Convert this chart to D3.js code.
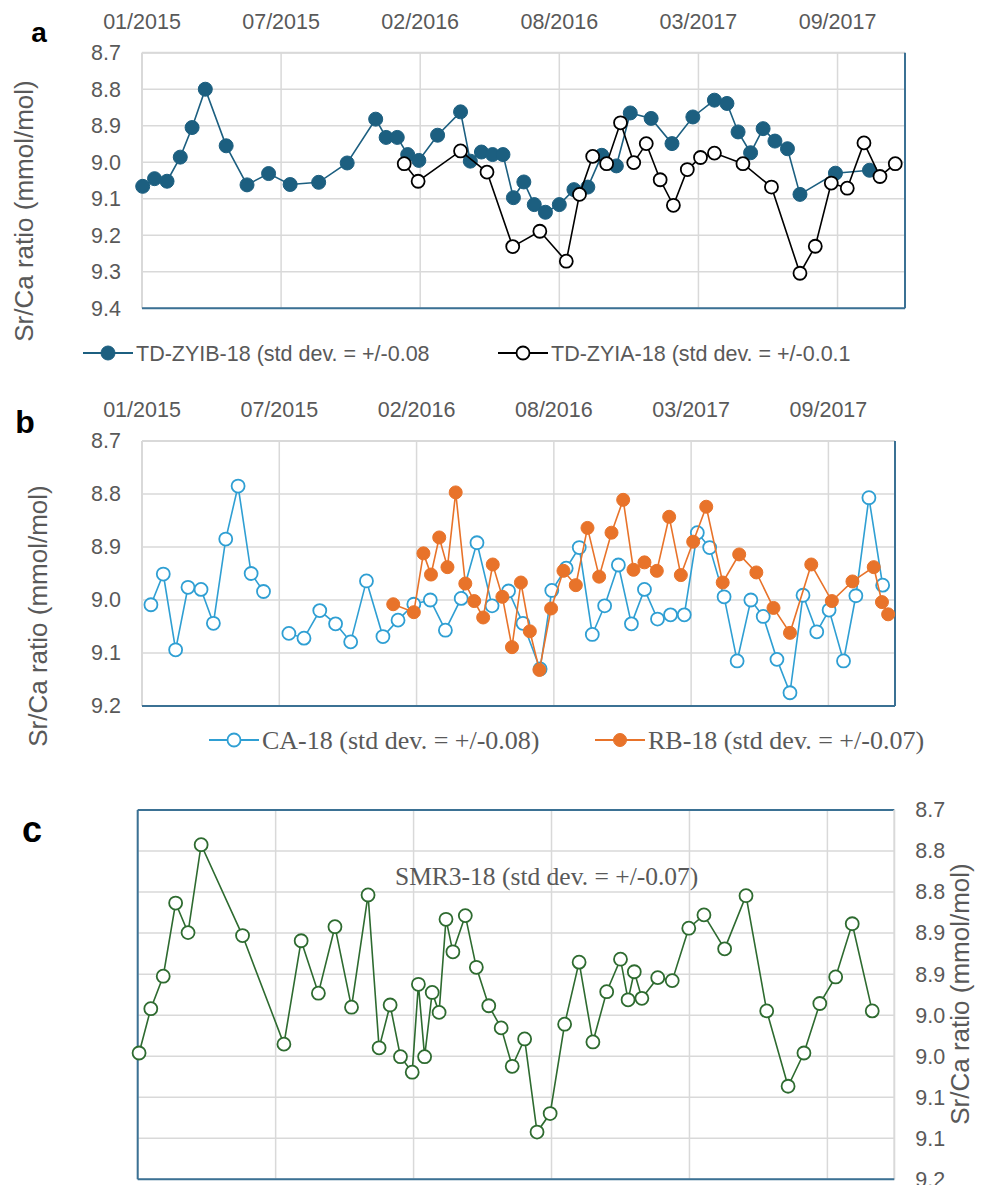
<!DOCTYPE html>
<html>
<head>
<meta charset="utf-8">
<script src="https://cdn.jsdelivr.net/npm/d3@7"></script>
<style>
  body { margin: 0; background: #fff; }
  svg { display: block; }
</style>
</head>
<body>
<div id="container"></div>
<script>
// x positions are days since 01/01/2015, ticks every 200 days
var xTickDays = [0, 200, 400, 600, 800, 1000];
var xTickLabels = ['01/2015', '07/2015', '02/2016', '08/2016', '03/2017', '09/2017'];

// panel a
var zyibDays = [1, 18, 36, 55, 72, 91, 121, 151, 182, 213, 254, 295, 336, 351, 367, 382, 398, 425, 458, 472,
    488, 504, 519, 534, 549, 564, 580, 600, 621, 641, 661, 682, 702, 732, 762, 792, 823, 841, 857, 875,
    893, 910, 928, 946, 997, 1046];
var zyibVals = [9.066, 9.045, 9.052, 8.986, 8.905, 8.800, 8.955, 9.062, 9.031, 9.061, 9.055, 9.002, 8.882, 8.932, 8.932, 8.979, 8.995, 8.926, 8.862, 8.997,
    8.972, 8.979, 8.979, 9.097, 9.054, 9.116, 9.137, 9.116, 9.075, 9.068, 8.981, 9.010, 8.865, 8.880, 8.949, 8.876, 8.830, 8.839, 8.917, 8.974,
    8.908, 8.942, 8.963, 9.088, 9.030, 9.022];
var zyiaDays = [377, 397, 458, 496, 533, 572, 610, 629, 648, 668, 688, 707, 725, 745, 764, 784, 803, 823, 864, 905,
    946, 968, 991, 1014, 1038, 1061, 1083];
var zyiaVals = [9.004, 9.052, 8.969, 9.027, 9.231, 9.189, 9.271, 9.088, 8.984, 9.004, 8.892, 9.001, 8.949, 9.048, 9.118, 9.020, 8.987, 8.975, 9.004, 9.068,
    9.304, 9.230, 9.057, 9.071, 8.947, 9.039, 9.004];
var aTicks = [8.7, 8.8, 8.9, 9.0, 9.1, 9.2, 9.3, 9.4];

// panel b (null = gap in the record)
var caDays = [13, 31, 49, 67, 86, 104, 122, 140, 159, 177, 195, 214, 236, 259, 282, 304, 327, 351, 373, 396,
    420, 442, 465, 488, 510, 534, 555, 580, 597, 618, 637, 656, 674, 694, 713, 732, 751, 770, 790, 809,
    827, 848, 867, 887, 905, 925, 944, 963, 983, 1001, 1022, 1040, 1059, 1079];
var caVals = [9.009, 8.951, 9.094, 8.976, 8.980, 9.044, 8.885, 8.785, 8.950, 8.984, null, 9.063, 9.072, 9.020, 9.045, 9.079, 8.964, 9.069, 9.038, 9.008,
    9.000, 9.057, 8.997, 8.892, 9.011, 8.983, 9.044, 9.130, 8.982, 8.940, 8.901, 9.065, 9.011, 8.934, 9.045, 8.980, 9.036, 9.028, 9.028, 8.873,
    8.901, 8.994, 9.115, 9.000, 9.031, 9.112, 9.175, 8.991, 9.060, 9.019, 9.115, 8.992, 8.807, 8.972];
var rbDays = [366, 396, 410, 421, 433, 445, 457, 471, 484, 497, 511, 525, 539, 552, 565, 579, 596, 614, 632, 649,
    666, 684, 701, 716, 732, 750, 768, 785, 803, 822, 846, 870, 895, 920, 944, 975, 1005, 1035, 1066, 1078, 1087];
var rbVals = [9.008, 9.023, 8.912, 8.952, 8.882, 8.938, 8.797, 8.969, 9.002, 9.033, 8.933, 8.994, 9.089, 8.967, 9.059, 9.132, 9.016, 8.945, 8.972, 8.864,
    8.956, 8.873, 8.811, 8.943, 8.929, 8.945, 8.843, 8.953, 8.890, 8.824, 8.967, 8.914, 8.948, 9.015, 9.062, 8.933, 9.002, 8.965, 8.938, 9.004, 9.027];
var bTicks = [8.7, 8.8, 8.9, 9.0, 9.1, 9.2];

// panel c
var smrDays = [2, 19, 37, 55, 73, 92, 152, 212, 237, 262, 286, 310, 334, 350, 366, 381, 398, 407, 416, 427,
    437, 447, 457, 475, 491, 509, 527, 543, 561, 579, 598, 619, 640, 660, 680, 700, 711, 720, 731, 754,
    775, 799, 821, 851, 882, 912, 943, 966, 989, 1012, 1036, 1065];
var smrVals = [9.029, 8.969, 8.925, 8.826, 8.866, 8.747, 8.870, 9.017, 8.877, 8.948, 8.858, 8.967, 8.815, 9.022, 8.964, 9.034, 9.055, 8.936, 9.034, 8.947,
    8.974, 8.848, 8.892, 8.843, 8.913, 8.965, 8.995, 9.047, 9.010, 9.136, 9.111, 8.990, 8.906, 9.014, 8.946, 8.902, 8.957, 8.919, 8.955, 8.927,
    8.931, 8.860, 8.842, 8.888, 8.816, 8.972, 9.074, 9.029, 8.962, 8.926, 8.854, 8.972];
var cTickCount = 10;

var width = 983,
    height = 1185;

var grey = '#595959',
    gridColor = '#d9d9d9',
    frameBlue = '#3b7194',
    sans = '"Liberation Sans", Arial, sans-serif',
    serif = '"Liberation Serif", "Times New Roman", serif';

var svg = d3.select('div#container')
    .append('svg')
    .attr('width', width)
    .attr('height', height);

function pts(days, vals) {
    return days.map(function(d, i) { return [d, vals[i]]; });
}

// one plot area: scales, grid, frame
function panel(o) {
    var x = d3.scaleLinear().domain([0, 1097]).range([o.left, o.right]);
    var y = d3.scaleLinear().domain(o.yDomain).range([o.top, o.bottom]);
    var g = svg.append('g');

    g.selectAll('.hgrid').data(o.yTicks).enter().append('line')
        .attr('x1', o.left).attr('x2', o.right)
        .attr('y1', function(d) { return y(d); }).attr('y2', function(d) { return y(d); })
        .attr('stroke', gridColor).attr('stroke-width', 1.5);
    g.selectAll('.vgrid').data(xTickDays).enter().append('line')
        .attr('y1', o.top).attr('y2', o.bottom)
        .attr('x1', function(d) { return x(d); }).attr('x2', function(d) { return x(d); })
        .attr('stroke', gridColor).attr('stroke-width', 1.5);

    // frame
    var f = o.frame;
    g.append('line').attr('x1', o.left).attr('x2', o.right).attr('y1', o.top).attr('y2', o.top)
        .attr('stroke', f.top).attr('stroke-width', 2);
    g.append('line').attr('x1', o.left).attr('x2', o.left).attr('y1', o.top).attr('y2', o.bottom)
        .attr('stroke', f.left).attr('stroke-width', 2);
    g.append('line').attr('x1', o.right).attr('x2', o.right).attr('y1', o.top).attr('y2', o.bottom)
        .attr('stroke', f.right).attr('stroke-width', 2);
    g.append('line').attr('x1', o.left).attr('x2', o.right).attr('y1', o.bottom).attr('y2', o.bottom)
        .attr('stroke', f.bottom).attr('stroke-width', 2);

    // y axis
    var axis = (o.yRight ? d3.axisRight(y) : d3.axisLeft(y))
        .tickValues(o.yTicks).tickSize(0).tickPadding(21)
        .tickFormat(d3.format('.1f'));
    var ax = g.append('g')
        .attr('transform', 'translate(' + (o.yRight ? o.right : o.left) + ',0)')
        .call(axis);
    ax.select('.domain').remove();
    ax.selectAll('text').attr('font-family', sans).attr('font-size', 21.5).attr('fill', grey);

    // top date labels
    if (o.dateY) {
        g.selectAll('.xlab').data(xTickDays).enter().append('text')
            .attr('x', function(d) { return x(d); })
            .attr('y', o.dateY)
            .attr('text-anchor', 'middle')
            .attr('font-family', sans).attr('font-size', 21.5).attr('fill', grey)
            .text(function(d, i) { return xTickLabels[i]; });
    }

    // y title
    svg.append('text')
        .attr('transform', 'translate(' + o.titleX + ',' + o.titleY + ') rotate(-90)')
        .attr('text-anchor', 'middle')
        .attr('dy', '0.35em')
        .attr('font-family', sans).attr('font-size', 26).attr('fill', grey)
        .text('Sr/Ca ratio (mmol/mol)');

    // panel letter
    svg.append('text')
        .attr('x', o.letterX).attr('y', o.letterY)
        .attr('text-anchor', 'middle')
        .attr('font-family', sans).attr('font-weight', 'bold')
        .attr('font-size', o.letterSize).attr('fill', '#000')
        .text(o.letter);

    return { x: x, y: y, g: g };
}

function series(p, data, s) {
    var line = d3.line()
        .defined(function(d) { return d[1] !== null; })
        .x(function(d) { return p.x(d[0]); })
        .y(function(d) { return p.y(d[1]); });
    p.g.append('path')
        .datum(data)
        .attr('fill', 'none')
        .attr('stroke', s.color)
        .attr('stroke-width', 1.6)
        .attr('d', line);
    p.g.selectAll(null)
        .data(data.filter(function(d) { return d[1] !== null; }))
        .enter().append('circle')
        .attr('cx', function(d) { return p.x(d[0]); })
        .attr('cy', function(d) { return p.y(d[1]); })
        .attr('r', s.r)
        .attr('fill', s.filled ? s.color : '#fff')
        .attr('stroke', s.color)
        .attr('stroke-width', s.filled ? 1 : 1.8);
}

function legendItem(x0, y0, s, label, font, size) {
    svg.append('line').attr('x1', x0).attr('x2', x0 + 50).attr('y1', y0).attr('y2', y0)
        .attr('stroke', s.color).attr('stroke-width', 2);
    svg.append('circle').attr('cx', x0 + 25).attr('cy', y0).attr('r', s.r)
        .attr('fill', s.filled ? s.color : '#fff')
        .attr('stroke', s.color).attr('stroke-width', s.filled ? 1 : 1.8);
    svg.append('text').attr('x', x0 + 53).attr('y', y0).attr('dy', '0.35em')
        .attr('font-family', font).attr('font-size', size).attr('fill', grey)
        .text(label);
}

var sZyib = { color: '#1c5f80', filled: true, r: 7 },
    sZyia = { color: '#000000', filled: false, r: 6.5 },
    sCa = { color: '#2f9fd3', filled: false, r: 6.5 },
    sRb = { color: '#e8732a', filled: true, r: 6.5 },
    sSmr = { color: '#2e6b30', filled: false, r: 6.5 };

// ---- a
var pa = panel({
    left: 142, right: 905, top: 52.7, bottom: 308.3,
    yDomain: [8.7, 9.4], yTicks: aTicks,
    frame: { top: gridColor, left: gridColor, right: frameBlue, bottom: frameBlue },
    dateY: 29, titleX: 24, titleY: 211,
    letter: 'a', letterX: 39, letterY: 42, letterSize: 28
});
series(pa, pts(zyibDays, zyibVals), sZyib);
series(pa, pts(zyiaDays, zyiaVals), sZyia);
legendItem(83, 353, sZyib, 'TD-ZYIB-18 (std dev. = +/-0.08', sans, 21.5);
legendItem(498, 353, sZyia, 'TD-ZYIA-18 (std dev. = +/-0.0.1', sans, 21.5);

// ---- b
var pb = panel({
    left: 142, right: 895, top: 441, bottom: 706,
    yDomain: [8.7, 9.2], yTicks: bTicks,
    frame: { top: gridColor, left: gridColor, right: frameBlue, bottom: frameBlue },
    dateY: 417, titleX: 38, titleY: 616,
    letter: 'b', letterX: 25, letterY: 433, letterSize: 32
});
series(pb, pts(caDays, caVals), sCa);
series(pb, pts(rbDays, rbVals), sRb);
legendItem(209, 740, sCa, 'CA-18 (std dev. = +/-0.08)', serif, 26);
legendItem(595, 740, sRb, 'RB-18 (std dev. = +/-0.07)', serif, 26);

// ---- c
var cTicks = d3.range(cTickCount).map(function(i) { return 8.7 + i * 0.5 / (cTickCount - 1); });
var pc = panel({
    left: 137.7, right: 894.3, top: 810, bottom: 1179.3,
    yDomain: [8.7, 9.2], yTicks: cTicks, yRight: true,
    frame: { top: frameBlue, left: frameBlue, right: gridColor, bottom: frameBlue },
    dateY: null, titleX: 960, titleY: 994,
    letter: 'c', letterX: 32, letterY: 842, letterSize: 36
});
series(pc, pts(smrDays, smrVals), sSmr);
pc.g.append('text')
    .attr('x', 395).attr('y', 885)
    .attr('font-family', serif).attr('font-size', 25.5).attr('fill', grey)
    .text('SMR3-18 (std dev. = +/-0.07)');
</script>
</body>
</html>
